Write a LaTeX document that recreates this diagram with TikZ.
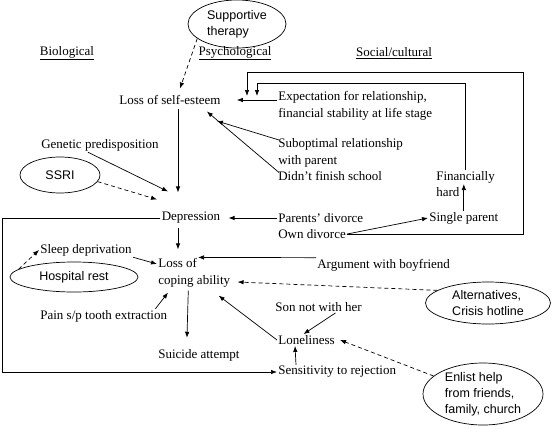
\documentclass[tikz,border=0pt]{standalone}
\usepackage{fontspec}
\setmainfont{Liberation Serif}
\setsansfont{Liberation Sans}
\usetikzlibrary{shapes.geometric, arrows.meta, calc}

\begin{document}
\begin{tikzpicture}[x = 1pt, y = -1pt, line width = 0.7pt, >={Latex[length = 6pt, width = 4.5pt]},
	lbl/.style = {inner sep = 1pt, font = \fontsize{13}{16.5}\selectfont, align = left},
	oval/.style = {draw, ellipse, inner sep = 0pt, font = \sffamily\fontsize{12.5}{16}\selectfont, align = left},
	hint/.style = {->, dash pattern = on 4pt off 3pt}]
	 \useasboundingbox (0, 0) rectangle (553, 428);

	 % column heads
	 \node[lbl] (bio) at (67, 53) {\underline{Biological}};
	 \node[lbl] (psy) at (235, 53) {\underline{Psychological}};
	 \node[lbl] (soc) at (394, 53) {\underline{Social/cultural}};

	 % factors
	 \node[lbl] (lse) at (170, 100) {Loss of self-esteem};
	 \node[lbl, anchor = west] (exp) at (277, 106) {Expectation for relationship,\\financial stability at life stage};
	 \node[lbl, anchor = west] (sub) at (277, 153) {Suboptimal relationship\\with parent};
	 \node[lbl, anchor = west] (dfs) at (277, 176) {Didn’t finish school};
	 \node[lbl] (gen) at (100, 145) {Genetic predisposition};
	 \node[lbl, anchor = west] (fin) at (435, 184) {Financially\\hard};
	 \node[lbl] (dep) at (191, 218) {Depression};
	 \node[lbl, anchor = west] (pdiv) at (277, 218) {Parents’ divorce};
	 \node[lbl, anchor = west] (odiv) at (277, 234) {Own divorce};
	 \node[lbl, anchor = west] (sgl) at (428, 218) {Single parent};
	 \node[lbl, anchor = west] (cop) at (157, 273) {Loss of\\coping ability};
	 \node[lbl, anchor = west] (slp) at (39, 250) {Sleep deprivation};
	 \node[lbl, anchor = west] (pain) at (39, 316) {Pain s/p tooth extraction};
	 \node[lbl, anchor = west] (arg) at (316, 265) {Argument with boyfriend};
	 \node[lbl, anchor = west] (son) at (274, 307) {Son not with her};
	 \node[lbl, anchor = west] (lone) at (277, 340) {Loneliness};
	 \node[lbl, anchor = west] (sui) at (157, 355) {Suicide attempt};
	 \node[lbl, anchor = west] (sens) at (277, 372) {Sensitivity to rejection};

	 % interventions
	 \node[oval, minimum width = 98pt, minimum height = 48pt] (sup) at (237, 24) {Supportive\\therapy};
	 \node[oval, minimum width = 80pt, minimum height = 36pt] (ssri) at (60, 175) {SSRI};
	 \node[oval, minimum width = 128pt, minimum height = 30pt] (hos) at (74, 277) {Hospital rest};
	 \node[oval, minimum width = 125pt, minimum height = 42pt] (alt) at (488, 303) {Alternatives,\\Crisis hotline};
	 \node[oval, minimum width = 120pt, minimum height = 62pt] (enl) at (483, 394) {Enlist help\\from friends,\\family, church};

	 \coordinate (outer) at (523, 72);
	 \coordinate (outertip) at (247, 96);
	 \coordinate (inner) at (257, 83);
	 \coordinate (innertip) at (257, 96);
	 \coordinate (lft) at (2, 218);

	 \draw[hint] (sup.200) -- ([xshift = 10pt, yshift = 5.5pt]lse.north);
	 \draw[->] ([yshift = 6pt]exp.west) -- ([xshift = 15pt]lse.east);
	 \draw[->] ([xshift = 2pt, yshift = -2.5pt]sub.north west) -- ([xshift = -5pt, yshift = -15pt]lse.south east);
	 \draw[->] ([xshift = 2pt, yshift = -2.5pt]dfs.north west) -- ([xshift = -15pt, yshift = -5.5pt]lse.south east);
	 \draw[->] (odiv.east) -| (outer) -| (outertip);
	 \draw[->] (fin.north) |- (inner) -- (innertip);
	 \draw[->] ([xshift = 8pt, yshift = -3.5pt]lse.south) -- ([xshift = -13pt, yshift = 18.5pt]dep.north);
	 \draw[->] ([xshift = -12pt]gen.south) -- ([xshift = -23pt, yshift = 19.5pt]dep.north);
	 \draw[hint] (ssri.-10) -- ([xshift = -34pt, yshift = 11.5pt]dep.north);
	 \draw[->] (pdiv.west) -- ([xshift = 7pt]dep.east);
	 \draw[->] (odiv.east) -- (sgl.west);
	 \draw[->] (sgl.north) -- (sgl.north |- fin.east);
	 \draw[->] (dep.west) -- (lft) |- (sens.west);

	 \draw[->] ([xshift = -13pt, yshift = -3pt]dep.south) -- ([xshift = 21pt, yshift = 8pt]cop.north west);
	 \draw[->] (slp.south east) -- ([yshift = 9pt]cop.west);
	 \draw[hint] (hos.172) -- (slp.west);
	 \draw[->] ([xshift = -13pt]pain.north east) -- ([xshift = 11pt, yshift = -4pt]cop.south west);
	 \draw[->] ([xshift = -6pt, yshift = -2pt]cop.south) -- ([xshift = -12pt, yshift = 10pt]sui.north);
	 \draw[->] (arg.north west) -- ($(cop.north west) + (41, 0)$);
	 \draw[hint] (alt.166) -- ([xshift = 6pt, yshift = -9pt]cop.east);
	 \draw[->] (lone.west) -- ([xshift = -13pt, yshift = -7pt]cop.south east);
	 \draw[->] ([xshift = 17pt]son.south) -- ([xshift = -3pt]lone.north);
	 \draw[->] ([xshift = 19pt]sens.north west) -- ([xshift = 18pt]lone.south west);
	 \draw[hint] (enl.160) -- ([xshift = 4pt]lone.east);
\end{tikzpicture}
\end{document}
